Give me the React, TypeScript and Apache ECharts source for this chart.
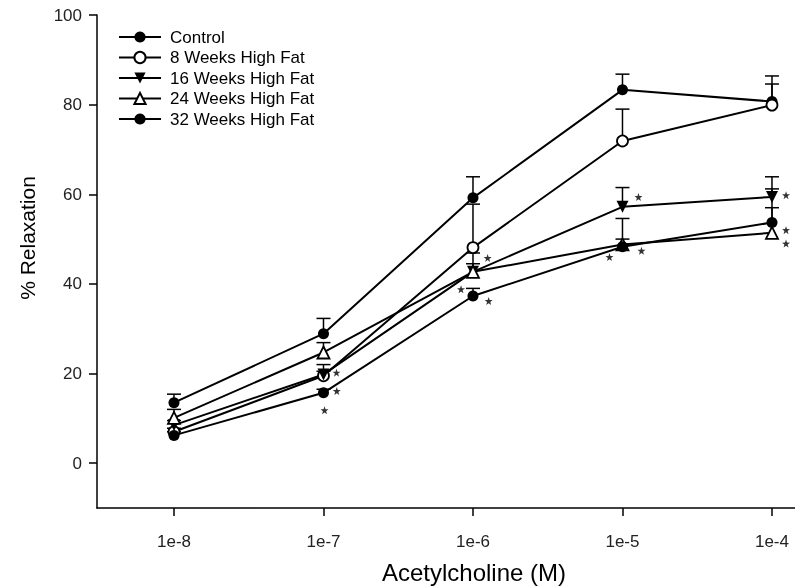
import React, { useEffect, useRef } from "react";
import * as echarts from "echarts";

// log10 of acetylcholine concentration (M)
const doses = [-8, -7, -6, -5, -4];
const tickLabels = ["1e-8", "1e-7", "1e-6", "1e-5", "1e-4"];
const yTicks = [0, 20, 40, 60, 80, 100];

const seriesNames = [
  "Control",
  "8 Weeks High Fat",
  "16 Weeks High Fat",
  "24 Weeks High Fat",
  "32 Weeks High Fat",
];

const control = [13.5, 28.9, 59.2, 83.3, 80.7];
const weeks8 = [7.0, 19.5, 48.1, 71.9, 79.9];
const weeks16 = [8.5, 19.8, 42.7, 57.2, 59.4];
const weeks24 = [10.1, 24.7, 42.7, 48.8, 51.4];
const weeks32 = [6.2, 15.7, 37.3, 48.3, 53.7];

// upper end of the error bars (mean + SEM)
const controlTop = [15.4, 32.3, 63.9, 86.8, 86.4];
const weeks8Top = [7.8, 20.5, 57.8, 79.0, 84.6];
const weeks16Top = [9.5, 22.0, 46.9, 61.5, 63.9];
const weeks24Top = [12.0, 26.9, 44.5, 54.6, 57.0];
const weeks32Top = [7.0, 16.5, 39.0, 50.0, 61.2];

// significance markers (log10 dose, % relaxation)
const starX = [-6.913, -6.911, -6.993, -5.902, -6.08, -5.895, -4.893, -4.873, -5.087, -3.906, -3.906, -3.906];
const starY = [20.2, 16.1, 11.8, 45.8, 38.8, 36.2, 59.4, 47.4, 46.0, 59.8, 52.0, 49.0];

const seriesValues = [control, weeks8, weeks16, weeks24, weeks32];
const seriesTops = [controlTop, weeks8Top, weeks16Top, weeks24Top, weeks32Top];
const symbols = ["circle", "emptyCircle", "triangle", "emptyTriangle", "circle"];
const symbolRotates = [0, 0, 180, 0, 0];

const STAR =
  "path://M10,0L12.35,6.76L19.51,6.91L13.8,11.24L15.88,18.09L10,14L4.12,18.09L6.2,11.24L0.49,6.91L7.65,6.76Z";

export default function App() {
  const ref = useRef<HTMLDivElement>(null);

  useEffect(() => {
    if (!ref.current) return;
    const chart = echarts.init(ref.current, null, { renderer: "svg" });
    const font = "Liberation Sans, Arial, sans-serif";

    const series: any[] = [];
    seriesNames.forEach((name, i) => {
      series.push({
        type: "custom",
        name: name + " err",
        silent: true,
        z: 1,
        data: doses.map((d, k) => [d, seriesValues[i][k], seriesTops[i][k]]),
        renderItem: (params: any, api: any) => {
          const p = api.coord([api.value(0), api.value(1)]);
          const t = api.coord([api.value(0), api.value(2)]);
          const half = 7;
          return {
            type: "group",
            children: [
              {
                type: "line",
                shape: { x1: p[0], y1: p[1], x2: t[0], y2: t[1] },
                style: { stroke: "#000", lineWidth: 1.5 },
              },
              {
                type: "line",
                shape: { x1: t[0] - half, y1: t[1], x2: t[0] + half, y2: t[1] },
                style: { stroke: "#000", lineWidth: 1.5 },
              },
            ],
          };
        },
      });
    });
    seriesNames.forEach((name, i) => {
      const empty = symbols[i].startsWith("empty");
      const tri = symbols[i].includes("riangle");
      series.push({
        type: "line",
        name,
        z: 3,
        data: doses.map((d, k) => [d, seriesValues[i][k]]),
        symbol: empty ? symbols[i].replace("empty", "").toLowerCase() : symbols[i],
        symbolRotate: symbolRotates[i],
        symbolSize: tri ? 12 : 11,
        lineStyle: { color: "#000", width: 2 },
        itemStyle: {
          color: empty ? "#fff" : "#000",
          borderColor: "#000",
          borderWidth: empty ? 1.8 : 0,
        },
        emphasis: { disabled: true },
      });
    });
    series.push({
      type: "scatter",
      name: "stars",
      silent: true,
      z: 4,
      symbol: STAR,
      symbolSize: 8,
      itemStyle: { color: "#000" },
      data: starX.map((x, k) => [x, starY[k]]),
    });

    chart.setOption({
      animation: false,
      grid: { left: 97, right: 0, top: 15, bottom: 79, containLabel: false },
      legend: {
        orient: "vertical",
        left: 113,
        top: 23.5,
        itemWidth: 42,
        itemHeight: 14,
        itemGap: 3.5,
        data: seriesNames,
        textStyle: {
          fontFamily: font,
          fontSize: 17,
          lineHeight: 14,
          color: "#000",
          padding: [0, 0, 0, 4],
        },
        selectedMode: false,
      },
      xAxis: {
        type: "value",
        min: -8.515,
        max: -3.846,
        axisLine: { onZero: false, lineStyle: { color: "#000", width: 1.5 } },
        axisTick: { customValues: doses, length: 8, lineStyle: { color: "#000", width: 1.5 } },
        axisLabel: {
          customValues: doses,
          formatter: (v: number) => tickLabels[doses.indexOf(Math.round(v))] ?? "",
          margin: 25,
          fontFamily: font,
          fontSize: 17,
          color: "#222",
        },
        splitLine: { show: false },
      },
      yAxis: {
        type: "value",
        min: -10,
        max: 100,
        axisLine: { show: true, lineStyle: { color: "#000", width: 1.5 } },
        axisTick: { show: true, customValues: yTicks, length: 8, lineStyle: { color: "#000", width: 1.5 } },
        axisLabel: {
          customValues: yTicks,
          margin: 15,
          fontFamily: font,
          fontSize: 17,
          color: "#222",
        },
        splitLine: { show: false },
      },
      graphic: [
        {
          type: "text",
          x: 474,
          y: 572,
          style: {
            text: "Acetylcholine (M)",
            fontFamily: font,
            fontSize: 24,
            fill: "#000",
            align: "center",
            verticalAlign: "middle",
          },
        },
        {
          type: "text",
          x: 27,
          y: 238,
          rotation: Math.PI / 2,
          style: {
            text: "% Relaxation",
            fontFamily: font,
            fontSize: 21,
            fill: "#000",
            align: "center",
            verticalAlign: "middle",
          },
        },
      ],
      series,
    });
    return () => chart.dispose();
  }, []);

  return (
    <div
      ref={ref}
      style={{ position: "fixed", left: 0, top: 0, width: 795, height: 587 }}
    />
  );
}
